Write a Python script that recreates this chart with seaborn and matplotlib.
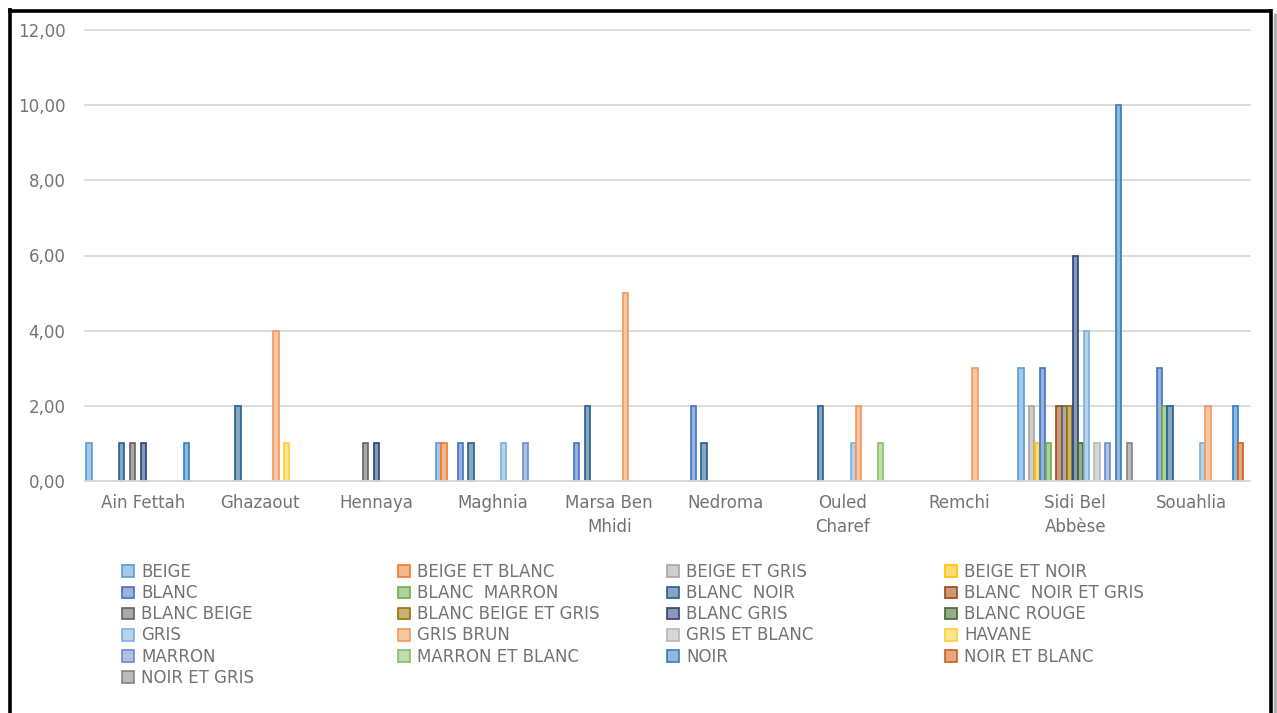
import numpy as np
import pandas as pd
import matplotlib
matplotlib.use("Agg")
import matplotlib.pyplot as plt
from matplotlib.patches import Patch
from matplotlib.lines import Line2D
from matplotlib.ticker import FuncFormatter
from matplotlib.colors import to_rgb
import seaborn as sns

# Communes (x categories)
communes = ["Ain Fettah", "Ghazaout", "Hennaya", "Maghnia", "Marsa Ben\nMhidi",
            "Nedroma", "Ouled\nCharef", "Remchi", "Sidi Bel\nAbbèse", "Souahlia"]

# Coat colours (series), in legend order
robes = ["BEIGE", "BEIGE ET BLANC", "BEIGE ET GRIS", "BEIGE ET NOIR", "BLANC",
         "BLANC  MARRON", "BLANC  NOIR", "BLANC  NOIR ET GRIS", "BLANC BEIGE",
         "BLANC BEIGE ET GRIS", "BLANC GRIS", "BLANC ROUGE", "GRIS", "GRIS BRUN",
         "GRIS ET BLANC", "HAVANE", "MARRON", "MARRON ET BLANC", "NOIR",
         "NOIR ET BLANC", "NOIR ET GRIS"]

# Counts per coat colour, one value per commune (same order as `communes`)
counts = [
    [1, 0, 0, 1, 0, 0, 0, 0, 3, 0],   # BEIGE
    [0, 0, 0, 1, 0, 0, 0, 0, 0, 0],   # BEIGE ET BLANC
    [0, 0, 0, 0, 0, 0, 0, 0, 2, 0],   # BEIGE ET GRIS
    [0, 0, 0, 0, 0, 0, 0, 0, 1, 0],   # BEIGE ET NOIR
    [0, 0, 0, 1, 1, 2, 0, 0, 3, 3],   # BLANC
    [0, 0, 0, 0, 0, 0, 0, 0, 1, 2],   # BLANC  MARRON
    [1, 2, 0, 1, 2, 1, 2, 0, 0, 2],   # BLANC  NOIR
    [0, 0, 0, 0, 0, 0, 0, 0, 2, 0],   # BLANC  NOIR ET GRIS
    [1, 0, 1, 0, 0, 0, 0, 0, 2, 0],   # BLANC BEIGE
    [0, 0, 0, 0, 0, 0, 0, 0, 2, 0],   # BLANC BEIGE ET GRIS
    [1, 0, 1, 0, 0, 0, 0, 0, 6, 0],   # BLANC GRIS
    [0, 0, 0, 0, 0, 0, 0, 0, 1, 0],   # BLANC ROUGE
    [0, 0, 0, 1, 0, 0, 1, 0, 4, 1],   # GRIS
    [0, 4, 0, 0, 5, 0, 2, 3, 0, 2],   # GRIS BRUN
    [0, 0, 0, 0, 0, 0, 0, 0, 1, 0],   # GRIS ET BLANC
    [0, 1, 0, 0, 0, 0, 0, 0, 0, 0],   # HAVANE
    [0, 0, 0, 1, 0, 0, 0, 0, 1, 0],   # MARRON
    [0, 0, 0, 0, 0, 0, 1, 0, 0, 0],   # MARRON ET BLANC
    [1, 0, 0, 0, 0, 0, 0, 0, 10, 2],  # NOIR
    [0, 0, 0, 0, 0, 0, 0, 0, 0, 1],   # NOIR ET BLANC
    [0, 0, 0, 0, 0, 0, 0, 0, 1, 0],   # NOIR ET GRIS
]

palette_hex = ["#5B9BD5", "#ED7D31", "#A5A5A5", "#FFC000", "#4472C4", "#70AD47",
               "#255E91", "#9E480E", "#636363", "#997300", "#264478", "#43682B",
               "#7CAFDD", "#F1975A", "#B7B7B7", "#FFCD33", "#698ED0", "#8CC168",
               "#327DC2", "#D0611A", "#848484"]

y_ticks = [0, 2, 4, 6, 8, 10, 12]

# Long-form table, keeping only non-zero counts
rows = []
for robe, vals in zip(robes, counts):
    for commune, v in zip(communes, vals):
        if v > 0:
            rows.append({"commune": commune, "robe": robe, "n": v})
df = pd.DataFrame(rows)

sns.set_theme(style="white")
plt.rcParams["font.family"] = ["DejaVu Sans"]
text_grey = "#737373"
fs = 12

W, H = 1277, 713
fig = plt.figure(figsize=(W / 100, H / 100), dpi=100)
ax = fig.add_axes([85 / W, 1 - 481 / H, (1250 - 85) / W, (481 - 30) / H])

palette = dict(zip(robes, palette_hex))
sns.barplot(data=df, x="commune", y="n", hue="robe", order=communes,
            hue_order=robes, palette=palette, width=0.977, gap=0.05,
            dodge=True, legend=False, ax=ax, saturation=1)


def lighten(c, amt=0.45):
    r, g, b = to_rgb(c)
    return (r + (1 - r) * amt, g + (1 - g) * amt, b + (1 - b) * amt)


for p in ax.patches:
    base = p.get_facecolor()[:3]
    p.set_edgecolor(base)
    p.set_facecolor(lighten(base))
    p.set_linewidth(1.2)

ax.set_ylim(0, 12)
ax.set_xlim(-0.5, len(communes) - 0.5)
ax.set_yticks(y_ticks)
ax.yaxis.set_major_formatter(FuncFormatter(lambda v, _: f"{v:.2f}".replace(".", ",")))
ax.grid(axis="y", color="#D9D9D9", linewidth=1.3)
for gl in ax.get_ygridlines():
    gl.set_clip_on(False)
ax.set_axisbelow(True)
for side in ["left", "right", "top"]:
    ax.spines[side].set_visible(False)
ax.spines["bottom"].set_color("#D9D9D9")
ax.spines["bottom"].set_linewidth(1.3)
ax.tick_params(axis="both", length=0, labelsize=fs, colors=text_grey)
ax.tick_params(axis="y", pad=14)
ax.tick_params(axis="x", pad=9)
for t in ax.get_xticklabels():
    t.set_linespacing(1.45)
ax.set_xlabel("")
ax.set_ylabel("")

# Legend: four columns filled row by row
handles = [Patch(facecolor=lighten(c), edgecolor=c, linewidth=1.2) for c in palette_hex]
col_x = [122, 398, 667, 945]
for c in range(4):
    idx = list(range(c, len(robes), 4))
    fig.legend([handles[i] for i in idx], [robes[i] for i in idx],
               loc="upper left", bbox_to_anchor=(col_x[c] / W, 1 - 563 / H),
               frameon=False, fontsize=fs, labelcolor=text_grey,
               handlelength=0.7, handleheight=0.7, handletextpad=0.45,
               labelspacing=0.19, borderpad=0, borderaxespad=0)

# Outer frame
frame_kw = dict(transform=fig.transFigure, color="black", linewidth=2.6, solid_capstyle="butt")
fig.add_artist(Line2D([10 / W, 10 / W], [0, 1 - 8 / H], **frame_kw))
fig.add_artist(Line2D([8 / W, 1272 / W], [1 - 10.5 / H, 1 - 10.5 / H], **frame_kw))
fig.add_artist(Line2D([1270.5 / W, 1270.5 / W], [0, 1 - 9 / H], **frame_kw))
fig.add_artist(Line2D([1274.5 / W, 1274.5 / W], [0, 1 - 13 / H], transform=fig.transFigure,
                      color="#B0B0B0", linewidth=2.5, solid_capstyle="butt"))

fig.savefig("out.png", dpi=100)
